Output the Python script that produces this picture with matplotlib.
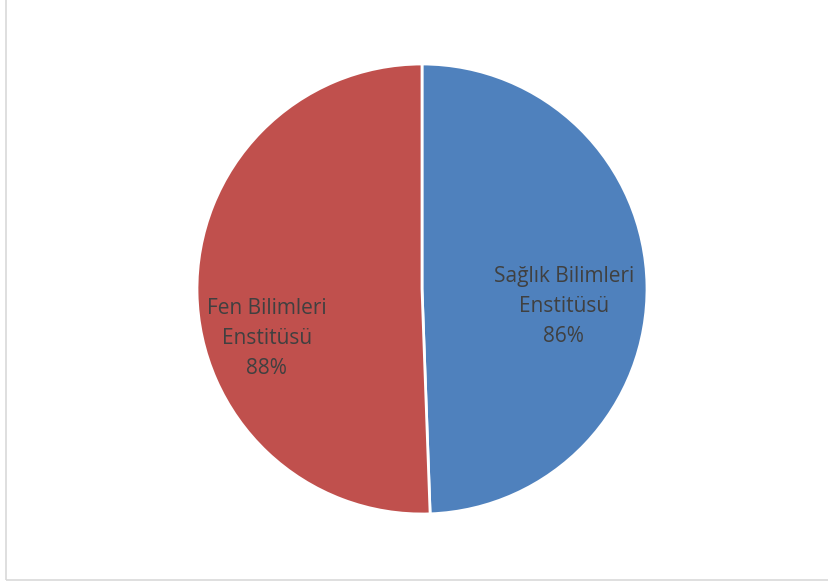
import matplotlib
matplotlib.use("Agg")
import matplotlib.pyplot as plt
import matplotlib.patches as patches

# Slice values (shown directly as percentages on the labels)
categories = ["Sağlık Bilimleri\nEnstitüsü", "Fen Bilimleri\nEnstitüsü"]
values = [86, 88]
colors = ["#4F81BD", "#C0504D"]

# label anchor points in units of the pie radius
label_pos = [(0.63, -0.078), (-0.69, -0.22)]

W, H = 829, 585
fig = plt.figure(figsize=(W / 100, H / 100), dpi=100)

# pie centre (422, 289) px, radius 225 px
cx, cy, r = 422, 289, 225
ax = fig.add_axes([(cx - r) / W, (H - cy - r) / H, 2 * r / W, 2 * r / H])

wedges, _ = ax.pie(values, colors=colors, startangle=90, counterclock=False,
                   radius=1.0,
                   wedgeprops=dict(edgecolor="white", linewidth=2.0))
ax.set_xlim(-1.0, 1.0)
ax.set_ylim(-1.0, 1.0)
ax.set_aspect("equal")
ax.axis("off")

for name, val, (lx, ly) in zip(categories, values, label_pos):
    ax.text(lx, ly, f"{name}\n{val}%", ha="center", va="center",
            fontsize=15, color="#404040", family=["Open Sans", "DejaVu Sans"],
            linespacing=1.55)

# chart area border
border = patches.Rectangle((6.5 / W, 5 / H), 1.0, 1.0, transform=fig.transFigure,
                           fill=False, edgecolor="#D9D9D9", linewidth=1.2)
fig.patches.append(border)

fig.savefig("out.png", dpi=100, facecolor="white")
